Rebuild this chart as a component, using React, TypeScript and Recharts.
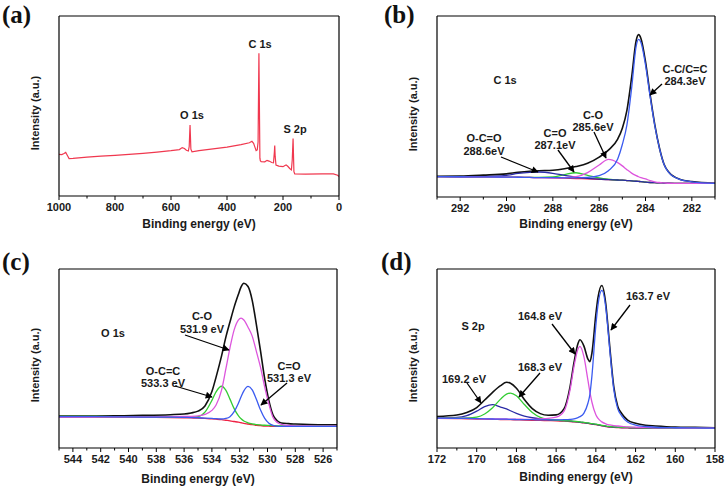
import React from 'react';
import { LineChart, Line, XAxis, YAxis } from 'recharts';

// (a) survey spectrum
const A_ENERGY = [1000, 990, 982, 976, 970, 964, 950, 900, 850, 800, 750, 700, 650, 600, 570, 560, 552, 545, 538, 535, 532, 529, 525, 500, 450, 400, 350, 320, 311, 305, 300, 296, 292, 289, 286, 282.5, 281, 278, 265, 257, 250, 240, 234, 231, 229.5, 228, 225, 215, 200, 193, 189, 183, 176, 170, 167, 164, 161, 158, 120, 60, 20, 5, 0];
const A_SURVEY = [23.1, 23.0, 23.6, 24.2, 22.5, 20.8, 20.9, 21.6, 22.1, 22.6, 23.1, 23.7, 24.4, 25.2, 25.8, 26.9, 26.4, 25.4, 25.0, 27.5, 39.4, 26.0, 24.6, 25.2, 26.2, 27.2, 28.5, 29.6, 30.4, 29.3, 27.0, 25.2, 25.6, 30.0, 79.3, 21.0, 19.6, 19.1, 19.0, 19.8, 19.4, 18.6, 18.4, 24.0, 28.0, 22.0, 17.2, 16.6, 16.3, 17.0, 17.3, 16.5, 15.3, 14.5, 20.0, 31.9, 13.5, 12.3, 12.2, 12.3, 12.3, 11.5, 10.8];
const A_TICKS = [1000, 900, 800, 700, 600, 500, 400, 300, 200, 100, 0];

// (b) C 1s
const B_ENERGY = [293, 292, 291, 290, 289.5, 289, 288.6, 288, 287.5, 287, 286.5, 286, 285.6, 285.2, 285, 284.8, 284.6, 284.4, 284.3, 284.2, 284, 283.8, 283.6, 283.4, 283.2, 283, 282.5, 282, 281];
const B_ENVELOPE = [11.5, 11.6, 12.1, 12.8, 13.6, 14.2, 14.5, 14.8, 15.6, 16.8, 18.6, 22.0, 25.9, 32.0, 38.0, 48.0, 66.0, 86.6, 89.7, 87.7, 74.8, 56.5, 40.0, 27.2, 18.1, 13.8, 9.7, 8.5, 7.6];
const B_BACKGROUND = [11.3, 11.2, 11.1, 11.0, 10.9, 10.8, 10.7, 10.6, 10.4, 10.2, 10.0, 9.8, 9.6, 9.4, 9.3, 9.1, 8.9, 8.7, 8.6, 8.5, 8.2, 8.0, 7.9, 7.8, 7.7, 7.6, 7.5, 7.5, 7.5];
const B_CC = [11.3, 11.2, 11.1, 11.0, 10.9, 10.8, 10.7, 10.7, 10.6, 10.6, 10.8, 11.8, 14.5, 21.0, 29.0, 40.0, 60.0, 83.5, 87.1, 85.5, 73.0, 55.5, 39.5, 27.0, 18.0, 13.6, 9.6, 8.4, 7.5];
const B_CO = [11.3, 11.2, 11.1, 11.0, 10.9, 10.8, 10.7, 10.6, 10.7, 11.2, 13.5, 17.7, 20.8, 19.0, 17.2, 15.1, 13.2, 11.8, 11.2, 10.7, 10.0, 9.0, 8.4, 8.0, 7.8, 7.6, 7.5, 7.5, 7.5];
const B_CEQO = [11.3, 11.2, 11.1, 11.0, 10.9, 10.85, 10.85, 11.1, 12.4, 13.4, 12.0, 10.5, 9.8, 9.4, 9.3, 9.1, 8.9, 8.7, 8.6, 8.5, 8.2, 8.0, 7.9, 7.8, 7.7, 7.6, 7.5, 7.5, 7.5];
const B_OCO = [11.3, 11.2, 11.3, 12.0, 13.0, 13.6, 13.8, 13.1, 11.9, 11.0, 10.3, 9.9, 9.6, 9.4, 9.3, 9.1, 8.9, 8.7, 8.6, 8.5, 8.2, 8.0, 7.9, 7.8, 7.7, 7.6, 7.5, 7.5, 7.5];
const B_TICKS = [293, 292, 291, 290, 289, 288, 287, 286, 285, 284, 283, 282, 281];

// (c) O 1s
const C_ENERGY = [545, 543, 541, 539, 537, 536, 535.5, 535, 534.5, 534, 533.7, 533.3, 533, 532.7, 532.4, 532.1, 531.9, 531.7, 531.4, 531.1, 530.8, 530.5, 530.2, 529.9, 529.6, 529.3, 529, 528.5, 528, 527, 526, 525];
const C_ENVELOPE = [17.9, 17.9, 18.0, 18.2, 18.6, 19.0, 19.6, 20.6, 23.5, 31.5, 39.6, 51.6, 61.8, 70.4, 78.7, 85.7, 90.0, 92.0, 90.2, 82.5, 68.9, 54.1, 38.6, 26.5, 18.4, 15.2, 14.0, 13.6, 13.4, 13.1, 13.0, 12.9];
const C_BACKGROUND = [17.3, 17.3, 17.2, 17.1, 17.0, 16.9, 16.8, 16.7, 16.5, 16.3, 16.1, 15.8, 15.5, 15.2, 14.8, 14.4, 14.1, 13.8, 13.4, 13.0, 12.7, 12.5, 12.3, 12.2, 12.1, 12.1, 12.1, 12.1, 12.1, 12.1, 12.1, 12.1];
const C_CO = [17.3, 17.3, 17.4, 17.4, 17.5, 17.6, 17.7, 18.0, 18.8, 21.0, 24.0, 32.5, 44.0, 56.0, 66.0, 71.5, 72.6, 71.5, 67.5, 62.5, 54.0, 45.0, 34.0, 24.5, 17.0, 14.3, 13.2, 12.6, 12.4, 12.3, 12.2, 12.2];
const C_CEQO = [17.5, 17.5, 17.4, 17.3, 17.2, 17.1, 17.0, 16.9, 16.7, 16.5, 16.4, 16.2, 16.5, 17.5, 20.3, 24.9, 28.6, 31.9, 34.4, 32.5, 27.2, 21.2, 16.5, 13.8, 12.6, 12.2, 12.1, 12.1, 12.1, 12.1, 12.1, 12.1];
const C_OCC = [17.6, 17.6, 17.5, 17.4, 17.3, 17.2, 17.3, 17.5, 20.0, 26.6, 31.4, 34.5, 32.3, 27.3, 22.0, 18.1, 16.3, 15.1, 14.1, 13.5, 13.1, 12.9, 12.7, 12.6, 12.5, 12.4, 12.4, 12.3, 12.3, 12.2, 12.2, 12.1];
const C_TICKS = [545, 544, 543, 542, 541, 540, 539, 538, 537, 536, 535, 534, 533, 532, 531, 530, 529, 528, 527, 526, 525];

// (d) S 2p
const D_ENERGY = [172, 171, 170.5, 170, 169.6, 169.2, 168.8, 168.5, 168.3, 168, 167.6, 167.2, 166.8, 166.4, 166, 165.6, 165.3, 165.1, 164.9, 164.8, 164.6, 164.4, 164.3, 164.2, 164, 163.9, 163.7, 163.5, 163.4, 163.3, 163.1, 162.9, 162.7, 162.4, 162, 161.5, 161, 160, 159, 158];
const D_ENVELOPE = [17.6, 18.4, 19.8, 22.6, 26.8, 31.1, 34.8, 36.7, 36.2, 33.4, 27.1, 22.0, 19.2, 18.3, 18.5, 22.0, 34.2, 47.8, 58.4, 60.5, 56.9, 49.7, 48.2, 52.9, 74.6, 83.6, 90.8, 80.4, 69.1, 56.6, 34.4, 23.4, 19.3, 15.6, 13.8, 12.7, 12.3, 11.7, 11.5, 11.3];
const D_BACKGROUND = [16.5, 16.4, 16.3, 16.2, 16.1, 16.0, 15.9, 15.85, 15.8, 15.7, 15.6, 15.5, 15.4, 15.3, 15.2, 15.0, 14.8, 14.6, 14.4, 14.3, 14.0, 13.7, 13.5, 13.3, 13.0, 12.8, 12.4, 12.0, 11.8, 11.7, 11.5, 11.4, 11.3, 11.2, 11.1, 11.1, 11.0, 11.0, 11.0, 11.0];
const D_163_7 = [16.7, 16.6, 16.5, 16.4, 16.3, 16.2, 16.1, 16.1, 16.0, 15.9, 15.8, 15.8, 15.7, 15.7, 15.7, 15.8, 16.0, 16.3, 17.0, 17.5, 19.5, 25.0, 30.0, 40.0, 68.5, 79.2, 88.1, 78.4, 67.3, 54.9, 32.9, 22.0, 18.0, 14.5, 12.8, 12.0, 11.6, 11.3, 11.2, 11.1];
const D_164_8 = [16.6, 16.5, 16.5, 16.4, 16.3, 16.2, 16.2, 16.2, 16.1, 16.1, 16.0, 16.0, 16.3, 16.6, 17.2, 20.6, 32.5, 45.6, 55.3, 56.8, 50.9, 37.9, 31.2, 25.7, 18.6, 16.7, 14.6, 13.5, 13.1, 12.9, 12.5, 12.3, 12.1, 11.8, 11.6, 11.5, 11.3, 11.2, 11.1, 11.1];
const D_168_3 = [16.7, 16.7, 16.8, 17.3, 19.0, 22.5, 27.3, 30.1, 30.7, 29.2, 24.3, 19.8, 17.1, 16.0, 15.6, 15.3, 15.1, 14.9, 14.7, 14.6, 14.3, 14.0, 13.8, 13.6, 13.3, 13.1, 12.7, 12.3, 12.1, 12.0, 11.8, 11.7, 11.6, 11.5, 11.4, 11.3, 11.2, 11.1, 11.1, 11.0];
const D_169_2 = [16.8, 17.1, 18.1, 20.6, 23.1, 24.2, 22.9, 21.9, 20.8, 19.3, 17.8, 16.9, 16.3, 15.9, 15.6, 15.3, 15.0, 14.8, 14.55, 14.45, 14.15, 13.85, 13.65, 13.45, 13.15, 12.95, 12.55, 12.15, 11.95, 11.85, 11.65, 11.55, 11.45, 11.35, 11.25, 11.2, 11.15, 11.1, 11.1, 11.05];
const D_TICKS = [172, 171, 170, 169, 168, 167, 166, 165, 164, 163, 162, 161, 160, 159, 158];

const FONT = '"Liberation Sans", Arial, sans-serif';
const BLACK = '#111';
const RED = '#ee2244';
const BLUE = '#3b5bf0';
const PINK = '#dd55dd';
const GREEN = '#33cc33';
const NAVY = '#2b2ba6';

type Series = { key: string; values: number[]; color: string; width?: number };

const toRows = (xs: number[], series: Series[]) =>
  xs.map((x, i) => {
    const row: Record<string, number> = { x };
    series.forEach((s) => (row[s.key] = s.values[i]));
    return row;
  });

const makeTick = (isMajor: (v: number) => boolean) => (props: any) => {
  const { x, y, payload } = props;
  const major = isMajor(payload.value);
  return (
    <g>
      <line x1={x} x2={x} y1={y} y2={y + (major ? 4 : 2.5)} stroke="#000" strokeWidth={1} />
      {major && (
        <text x={x} y={y + 15} textAnchor="middle" fontFamily={FONT} fontWeight="bold" fontSize={11} fill="#1a1a1a">
          {payload.value}
        </text>
      )}
    </g>
  );
};

interface PanelProps {
  left: number;
  top: number;
  // plot box inside the 363x243 cell
  box: { top: number; right: number; bottom: number; left: number };
  xs: number[];
  domain: [number, number];
  ticks: number[];
  isMajor: (v: number) => boolean;
  series: Series[];
  curve: 'linear' | 'monotone';
}

const AX = 1; // axis band thickness

const Panel: React.FC<PanelProps> = ({ left, top, box, xs, domain, ticks, isMajor, series, curve }) => {
  const rows = toRows(xs, series);
  const margin = { top: box.top - AX, right: box.right - AX, bottom: box.bottom - AX, left: box.left - AX };
  const frame = { stroke: '#000', strokeWidth: 1.2 };
  return (
    <div style={{ position: 'absolute', left, top }}>
      <LineChart width={363} height={243} data={rows} margin={margin}>
        <XAxis
          dataKey="x"
          type="number"
          domain={domain}
          reversed
          ticks={ticks}
          interval={0}
          tick={makeTick(isMajor)}
          tickLine={false}
          tickSize={0}
          tickMargin={0}
          height={AX}
          axisLine={frame}
          allowDataOverflow
        />
        <XAxis xAxisId="top" orientation="top" dataKey="x" type="number" domain={domain} reversed ticks={ticks} tick={false} tickLine={false} height={AX} axisLine={frame} />
        <YAxis type="number" domain={[0, 100]} tick={false} tickLine={false} width={AX} axisLine={frame} />
        <YAxis yAxisId="right" orientation="right" type="number" domain={[0, 100]} tick={false} tickLine={false} width={AX} axisLine={frame} />
        {series.map((s) => (
          <Line
            key={s.key}
            dataKey={s.key}
            type={curve}
            stroke={s.color}
            strokeWidth={s.width ?? 1.3}
            dot={false}
            activeDot={false}
            isAnimationActive={false}
          />
        ))}
      </LineChart>
    </div>
  );
};

const even = (v: number) => v % 2 === 0;

const Note = ({ x, y, children }: { x: number; y: number; children: React.ReactNode }) => (
  <text x={x} y={y} textAnchor="middle" dominantBaseline="central" fontFamily={FONT} fontWeight="bold" fontSize={11} fill="#1a1a1a">
    {children}
  </text>
);

const Arrow = ({ x1, y1, x2, y2 }: { x1: number; y1: number; x2: number; y2: number }) => (
  <line x1={x1} y1={y1} x2={x2} y2={y2} stroke="#000" strokeWidth={1.3} markerEnd="url(#ah)" />
);

const PanelTag = ({ x, y, children }: { x: number; y: number; children: string }) => (
  <text x={x} y={y} fontFamily='"Liberation Serif", "Times New Roman", serif' fontWeight="bold" fontSize={25} fill="#111">
    {children}
  </text>
);

const AxisTitle = ({ x, y }: { x: number; y: number }) => (
  <text x={x} y={y} textAnchor="middle" dominantBaseline="central" fontFamily={FONT} fontWeight="bold" fontSize={12} fill="#1a1a1a">
    Binding energy (eV)
  </text>
);

const YTitle = ({ x, y }: { x: number; y: number }) => (
  <text x={x} y={y} textAnchor="middle" dominantBaseline="central" fontFamily={FONT} fontWeight="bold" fontSize={11} fill="#1a1a1a" transform={`rotate(-90 ${x} ${y})`}>
    Intensity (a.u.)
  </text>
);

export default function App() {
  return (
    <div style={{ position: 'fixed', left: 0, top: 0, width: 726, height: 486, background: '#fff', overflow: 'hidden' }}>
      <Panel
        left={0}
        top={0}
        box={{ top: 16, right: 24, bottom: 47, left: 59 }}
        xs={A_ENERGY}
        domain={[0, 1000]}
        ticks={A_TICKS}
        isMajor={(v) => v % 200 === 0}
        curve="linear"
        series={[{ key: 'survey', values: A_SURVEY, color: '#f0384f', width: 1.2 }]}
      />
      <Panel
        left={363}
        top={0}
        box={{ top: 16, right: 11, bottom: 46, left: 74 }}
        xs={B_ENERGY}
        domain={[281, 293]}
        ticks={B_TICKS}
        isMajor={even}
        curve="monotone"
        series={[
          { key: 'envelope', values: B_ENVELOPE, color: BLACK, width: 1.6 },
          { key: 'background', values: B_BACKGROUND, color: RED },
          { key: 'ceqo', values: B_CEQO, color: GREEN },
          { key: 'oco', values: B_OCO, color: NAVY },
          { key: 'co', values: B_CO, color: PINK },
          { key: 'cc', values: B_CC, color: BLUE },
        ]}
      />
      <Panel
        left={0}
        top={243}
        box={{ top: 26, right: 26, bottom: 38, left: 59 }}
        xs={C_ENERGY}
        domain={[525, 545]}
        ticks={C_TICKS}
        isMajor={even}
        curve="monotone"
        series={[
          { key: 'envelope', values: C_ENVELOPE, color: BLACK, width: 1.6 },
          { key: 'background', values: C_BACKGROUND, color: RED },
          { key: 'occ', values: C_OCC, color: GREEN },
          { key: 'co', values: C_CO, color: PINK },
          { key: 'ceqo', values: C_CEQO, color: BLUE },
        ]}
      />
      <Panel
        left={363}
        top={243}
        box={{ top: 26, right: 11, bottom: 38, left: 74 }}
        xs={D_ENERGY}
        domain={[158, 172]}
        ticks={D_TICKS}
        isMajor={even}
        curve="monotone"
        series={[
          { key: 'envelope', values: D_ENVELOPE, color: BLACK, width: 1.6 },
          { key: 'background', values: D_BACKGROUND, color: RED },
          { key: 's169', values: D_169_2, color: NAVY },
          { key: 's168', values: D_168_3, color: GREEN },
          { key: 's164', values: D_164_8, color: PINK },
          { key: 's163', values: D_163_7, color: BLUE },
        ]}
      />
      <svg width={726} height={486} style={{ position: 'absolute', left: 0, top: 0, pointerEvents: 'none' }}>
        <defs>
          <marker id="ah" viewBox="0 0 10 10" refX="9" refY="5" markerWidth="8" markerHeight="7" markerUnits="userSpaceOnUse" orient="auto">
            <path d="M0,0 L10,5 L0,10 z" fill="#000" />
          </marker>
        </defs>

        <PanelTag x={2} y={23}>(a)</PanelTag>
        <PanelTag x={384} y={23}>(b)</PanelTag>
        <PanelTag x={2} y={270}>(c)</PanelTag>
        <PanelTag x={381} y={270}>(d)</PanelTag>

        <AxisTitle x={199} y={224} />
        <AxisTitle x={576} y={224} />
        <AxisTitle x={198} y={479} />
        <AxisTitle x={576} y={477} />

        <YTitle x={35} y={113} />
        <YTitle x={413} y={114} />
        <YTitle x={35} y={365} />
        <YTitle x={413} y={365} />

        {/* (a) */}
        <Note x={192} y={115}>O 1s</Note>
        <Note x={260} y={44}>C 1s</Note>
        <Note x={295} y={129}>S 2p</Note>

        {/* (b) */}
        <Note x={505} y={80}>C 1s</Note>
        <Note x={685} y={69}>C-C/C=C</Note>
        <Note x={685} y={81}>284.3eV</Note>
        <Note x={593} y={115}>C-O</Note>
        <Note x={593} y={127}>285.6eV</Note>
        <Note x={555} y={133}>C=O</Note>
        <Note x={555} y={145}>287.1eV</Note>
        <Note x={484} y={138}>O-C=O</Note>
        <Note x={484} y={151}>288.6eV</Note>
        <Arrow x1={662} y1={84} x2={650} y2={95} />
        <Arrow x1={594} y1={132} x2={606} y2={158} />
        <Arrow x1={558} y1={150} x2={574} y2={172} />
        <Arrow x1={501} y1={157} x2={538} y2={172} />

        {/* (c) */}
        <Note x={113} y={333}>O 1s</Note>
        <Note x={202} y={316}>C-O</Note>
        <Note x={202} y={329}>531.9 eV</Note>
        <Note x={163} y={371}>O-C=C</Note>
        <Note x={163} y={383}>533.3 eV</Note>
        <Note x={289} y={366}>C=O</Note>
        <Note x={289} y={378}>531.3 eV</Note>
        <Arrow x1={185} y1={335} x2={229} y2={350} />
        <Arrow x1={175} y1={386} x2={212} y2={397} />
        <Arrow x1={287} y1={383} x2={261} y2={405} />

        {/* (d) */}
        <Note x={473} y={326}>S 2p</Note>
        <Note x={540} y={316}>164.8 eV</Note>
        <Note x={648} y={296}>163.7 eV</Note>
        <Note x={540} y={367}>168.3 eV</Note>
        <Note x={464} y={379}>169.2 eV</Note>
        <Arrow x1={552} y1={324} x2={575} y2={354} />
        <Arrow x1={630} y1={305} x2={611} y2={330} />
        <Arrow x1={540} y1={373} x2={519} y2={397} />
        <Arrow x1={467} y1={383} x2={481} y2={403} />
      </svg>
    </div>
  );
}
